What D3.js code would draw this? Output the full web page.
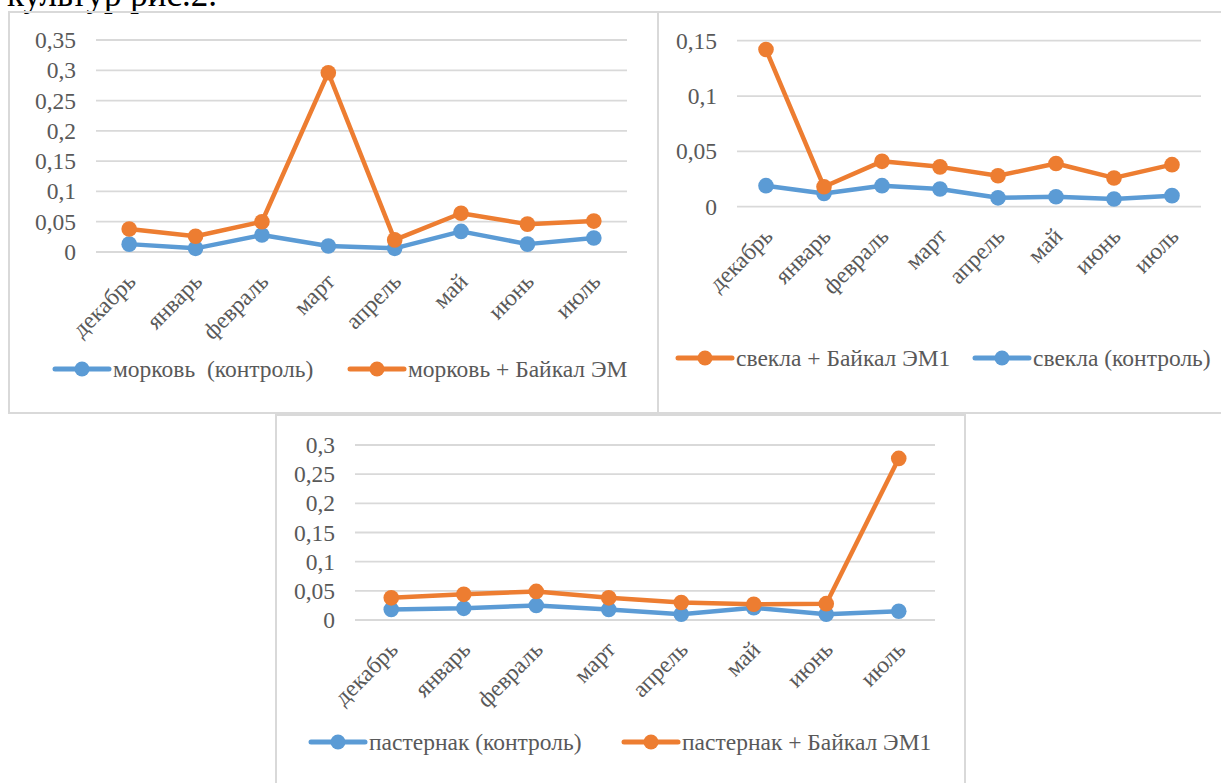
<!DOCTYPE html>
<html>
<head>
<meta charset="utf-8">
<script src="https://cdn.jsdelivr.net/npm/d3@7"></script>
<style>
  html, body { margin: 0; padding: 0; background: #ffffff; }
  svg { display: block; }
</style>
</head>
<body>
<svg id="chart" width="1221" height="783"></svg>
<script>
// Months shared by all three charts
const months = ["декабрь", "январь", "февраль", "март", "апрель", "май", "июнь", "июль"];

// Carrot
const carrotControl = [0.013, 0.006, 0.028, 0.010, 0.006, 0.034, 0.013, 0.023];
const carrotBaikal  = [0.038, 0.026, 0.050, 0.296, 0.020, 0.064, 0.046, 0.051];
const carrotTicks   = [0, 0.05, 0.1, 0.15, 0.2, 0.25, 0.3, 0.35];

// Beet
const beetBaikal  = [0.142, 0.018, 0.041, 0.036, 0.028, 0.039, 0.026, 0.038];
const beetControl = [0.019, 0.012, 0.019, 0.016, 0.008, 0.009, 0.007, 0.010];
const beetTicks   = [0, 0.05, 0.1, 0.15];

// Parsnip
const parsnipControl = [0.018, 0.020, 0.025, 0.018, 0.010, 0.021, 0.010, 0.015];
const parsnipBaikal  = [0.038, 0.044, 0.049, 0.038, 0.030, 0.027, 0.028, 0.277];
const parsnipTicks   = [0, 0.05, 0.1, 0.15, 0.2, 0.25, 0.3];

const BLUE = "#5b9bd5";
const ORANGE = "#ed7d31";
const GRID = "#d9d9d9";
const LABEL = "#595959";
const SERIF = "'Liberation Serif', 'Times New Roman', serif";
const FS = "23.5px";

const svg = d3.select("#chart");

// Heading fragment running off the top of the page
svg.append("text")
  .attr("x", 7).attr("y", 6)
  .style("font-family", SERIF)
  .style("font-size", "35px")
  .attr("fill", "#000")
  .text("культур рис.2.");

// Decimal comma, trailing zeros dropped
const fmt = v => String(+v.toFixed(2)).replace(".", ",");

function drawPanel(cfg) {
  const g = svg.append("g");

  // frame
  g.append("rect")
    .attr("x", cfg.frame[0]).attr("y", cfg.frame[1])
    .attr("width", cfg.frame[2] - cfg.frame[0])
    .attr("height", cfg.frame[3] - cfg.frame[1])
    .attr("fill", "none").attr("stroke", GRID).attr("stroke-width", 2);

  const x = d3.scaleBand().domain(months).range([cfg.left, cfg.right]);
  const y = d3.scaleLinear().domain([0, d3.max(cfg.ticks)]).range([cfg.bottom, cfg.top]);
  const cx = m => x(m) + x.bandwidth() / 2;

  // gridlines
  g.append("g").selectAll("line").data(cfg.ticks).join("line")
    .attr("x1", cfg.left).attr("x2", cfg.right)
    .attr("y1", d => y(d)).attr("y2", d => y(d))
    .attr("stroke", GRID).attr("stroke-width", 1.8);

  // y axis labels
  const yAxis = d3.axisLeft(y).tickValues(cfg.ticks).tickFormat(fmt).tickSize(0).tickPadding(20);
  const ya = g.append("g").attr("transform", `translate(${cfg.left},0)`).call(yAxis);
  ya.attr("font-family", null);
  ya.select(".domain").remove();
  ya.selectAll("text")
    .style("font-family", SERIF)
    .style("font-size", FS).attr("fill", LABEL);

  // x axis labels, rotated
  const xAxis = d3.axisBottom(x).tickSize(0).tickPadding(0);
  const xa = g.append("g").attr("transform", `translate(0,${cfg.bottom})`).call(xAxis);
  xa.attr("font-family", null);
  xa.select(".domain").remove();
  xa.selectAll("text")
    .style("font-family", SERIF)
    .style("font-size", FS).attr("fill", LABEL)
    .attr("text-anchor", "end")
    .attr("dy", null)
    .attr("y", null)
    .attr("transform", "translate(8,31) rotate(-45)");

  // series
  const line = d3.line().x((d, i) => cx(months[i])).y(d => y(d));
  cfg.series.forEach(s => {
    const sg = g.append("g");
    sg.append("path").datum(s.values)
      .attr("d", line).attr("fill", "none")
      .attr("stroke", s.color).attr("stroke-width", 4.5)
      .attr("stroke-linejoin", "round").attr("stroke-linecap", "round");
    sg.selectAll("circle").data(s.values).join("circle")
      .attr("cx", (d, i) => cx(months[i])).attr("cy", d => y(d))
      .attr("r", 7.8).attr("fill", s.color);
  });

  // legend
  cfg.legend.forEach(item => {
    const lg = g.append("g").attr("transform", `translate(${item.x},${cfg.legendY})`);
    lg.append("line").attr("x1", 0).attr("x2", 54).attr("y1", 0).attr("y2", 0)
      .attr("stroke", item.color).attr("stroke-width", 5).attr("stroke-linecap", "round");
    lg.append("circle").attr("cx", 27).attr("cy", 0).attr("r", 7.5).attr("fill", item.color);
    lg.append("text").attr("x", 58).attr("y", 0).attr("dy", "0.33em")
      .style("font-family", SERIF)
      .style("font-size", FS).attr("fill", LABEL)
      .style("white-space", "pre")
      .text(item.label);
  });
}

drawPanel({
  frame: [9, 12, 658, 413],
  left: 96, right: 627, top: 40, bottom: 252,
  ticks: carrotTicks,
  series: [
    { values: carrotControl, color: BLUE },
    { values: carrotBaikal, color: ORANGE }
  ],
  legendY: 369,
  legend: [
    { x: 55, color: BLUE, label: "морковь  (контроль)" },
    { x: 350, color: ORANGE, label: "морковь + Байкал ЭМ" }
  ]
});

drawPanel({
  frame: [658, 12, 1222, 413],
  left: 737, right: 1201, top: 40.7, bottom: 206.7,
  ticks: beetTicks,
  series: [
    { values: beetControl, color: BLUE },
    { values: beetBaikal, color: ORANGE }
  ],
  legendY: 358,
  legend: [
    { x: 678, color: ORANGE, label: "свекла + Байкал ЭМ1" },
    { x: 975, color: BLUE, label: "свекла (контроль)" }
  ]
});

drawPanel({
  frame: [276, 415, 965, 790],
  left: 355, right: 935, top: 445, bottom: 620,
  ticks: parsnipTicks,
  series: [
    { values: parsnipControl, color: BLUE },
    { values: parsnipBaikal, color: ORANGE }
  ],
  legendY: 742,
  legend: [
    { x: 311, color: BLUE, label: "пастернак (контроль)" },
    { x: 624, color: ORANGE, label: "пастернак + Байкал ЭМ1" }
  ]
});
</script>
</body>
</html>
